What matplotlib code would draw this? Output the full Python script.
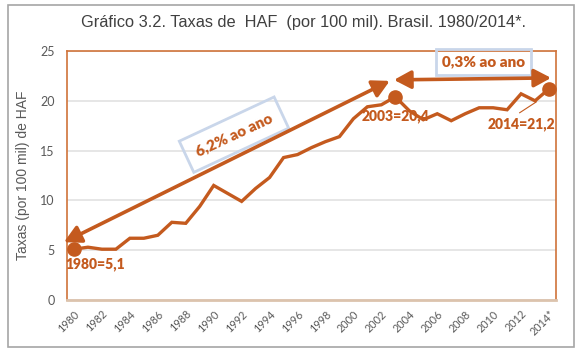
import numpy as np
import matplotlib.pyplot as plt
from matplotlib.patches import Rectangle

# taxas de HAF por 100 mil, 1980-2014
anos = list(range(1980, 2015))
taxas = [5.1, 5.3, 5.1, 5.1, 6.2, 6.2, 6.5, 7.8, 7.7, 9.4,
         11.5, 10.7, 9.9, 11.2, 12.3, 14.3, 14.6, 15.3, 15.9, 16.4,
         18.2, 19.4, 19.6, 20.4, 19.0, 18.1, 18.7, 18.0, 18.7, 19.3,
         19.3, 19.1, 20.7, 20.0, 21.2]
rotulos = [str(a) if (a - 1980) % 2 == 0 else '' for a in anos]
rotulos[-1] = '2014*'
destaques = {1980: '1980=5,1', 2003: '2003=20,4', 2014: '2014=21,2'}

laranja = '#C45A1E'
cinza = '#595959'

fig = plt.figure(figsize=(5.84, 3.58), dpi=100)
fig.patches.append(Rectangle((8/584, 1-347/358), 566/584, 342/358,
                             transform=fig.transFigure, fill=False,
                             ec='#a6a6a6', lw=1.2))
ax = fig.add_axes([67/584, 58/358, 489/584, 249/358])

x = np.arange(len(anos))
ax.plot(x, taxas, color=laranja, lw=2.4, solid_joinstyle='miter', zorder=3)
idx = [anos.index(a) for a in destaques]
ax.plot(x[idx], [taxas[i] for i in idx], 'o', color=laranja, ms=9.5, zorder=4)

ax.set_xlim(-0.5, len(anos) - 0.5)
ax.set_ylim(0, 25)
ax.set_yticks([0, 5, 10, 15, 20, 25])
ax.set_xticks(x)
ax.set_xticklabels(rotulos, rotation=45, ha='right', rotation_mode='anchor',
                   fontsize=7.8, color=cinza, family='Lato')
ax.tick_params(axis='x', length=0, pad=6)
ax.tick_params(axis='y', length=0, pad=9, labelsize=9, labelcolor=cinza)
for t in ax.get_yticklabels():
    t.set_family('Lato')
ax.grid(axis='y', color='#e4e4e4', lw=1.3)
ax.set_axisbelow(True)
for s in ['left', 'right', 'top']:
    ax.spines[s].set_color('#D0733A')
    ax.spines[s].set_linewidth(1.2)
ax.spines['bottom'].set_color('#dcc3ad')
ax.spines['bottom'].set_linewidth(2)

ax.set_ylabel('Taxas (por 100 mil) de HAF', fontsize=10, color=cinza,
              family='Liberation Sans', labelpad=7)
fig.text(0.52, 1 - 22/358, 'Gráfico 3.2. Taxas de  HAF  (por 100 mil). Brasil. 1980/2014*.',
         ha='center', va='center', fontsize=11.8, color='#404040',
         family='Liberation Sans')

# setas de tendencia
seta = dict(arrowstyle='<|-|>,head_length=0.6,head_width=0.32', color=laranja,
            lw=2.6, shrinkA=0, shrinkB=0, mutation_scale=17)
ax.annotate('', xy=(22.6, 22.0), xytext=(-0.72, 5.8), arrowprops=seta, zorder=5,
            annotation_clip=False)
ax.annotate('', xy=(34.15, 22.3), xytext=(22.9, 22.1), arrowprops=seta, zorder=5,
            annotation_clip=False)

caixa = dict(boxstyle='square,pad=0.7', fc='none', ec='#c9d6ea', lw=2)
ax.text(11.45, 16.6, '6,2% ao ano', rotation=25, ha='center', va='center',
        fontsize=11, fontweight='heavy', color=laranja, family='Lato',
        bbox=caixa, rotation_mode='anchor')
ax.text(29.3, 23.9, '0,3% ao ano', ha='center', va='center',
        fontsize=11, fontweight='heavy', color=laranja, family='Lato',
        bbox=dict(boxstyle='square,pad=0.4', fc='none', ec='#c9d6ea', lw=2))

# rotulos dos pontos
ax.text(1.5, 3.6, destaques[1980], ha='center', va='center', fontsize=10,
        fontweight='heavy', color=laranja, family='Lato')
ax.text(23.0, 18.5, destaques[2003], ha='center', va='center', fontsize=10,
        fontweight='heavy', color=laranja, family='Lato')
ax.text(32.0, 17.7, destaques[2014], ha='center', va='center', fontsize=10,
        fontweight='heavy', color=laranja, family='Lato')
ax.plot([31.9, 33.1], [18.8, 19.9], color=laranja, lw=0.8)

fig.savefig('out.png', dpi=100)
